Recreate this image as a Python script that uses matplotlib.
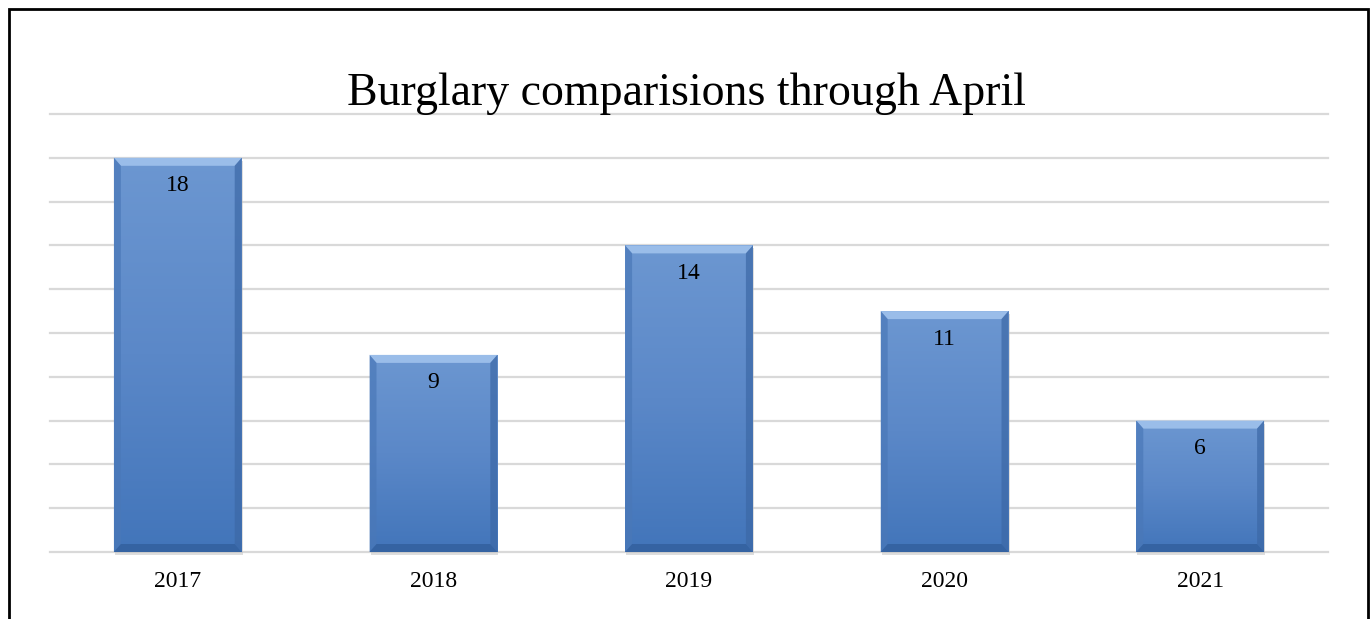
import numpy as np
import matplotlib.pyplot as plt
from matplotlib.patches import Rectangle, Polygon
from matplotlib.colors import LinearSegmentedColormap

years = ['2017', '2018', '2019', '2020', '2021']
burglaries = [18, 9, 14, 11, 6]

plt.rcParams['font.family'] = ['Liberation Serif', 'DejaVu Serif']

fig = plt.figure(figsize=(13.72, 6.19), dpi=100)
ax = fig.add_axes([50/1372, 1-552/619, 1278/1372, 438/619])

# outer frame round the chart (runs off the bottom edge)
fig.patches.append(Rectangle((8.5/1372, -0.2), 1359/1372, 1.2 - 9/619, transform=fig.transFigure,
                             fill=False, edgecolor='black', linewidth=2, zorder=0))

ax.set_xlim(-0.5, len(years) - 0.5)
ax.set_ylim(0, 20)
for s in ax.spines.values():
    s.set_visible(False)
ax.tick_params(axis='y', length=0, labelleft=False)
ax.tick_params(axis='x', length=0, pad=14, labelsize=17)
ax.set_xticks(range(len(years)))
ax.set_xticklabels(years)
# horizontal gridlines every 2
for g in np.arange(0, 21, 2):
    ax.axhline(g, color='#d9d9d9', linewidth=1.6, zorder=1, clip_on=False)

fig.text(0.5, 1-94/619, 'Burglary comparisions through April', ha='center', va='center', fontsize=33)

cmap = LinearSegmentedColormap.from_list('bar', ['#4275ba', '#5b88c8', '#6c97d1'])
grad = np.linspace(0, 1, 256).reshape(-1, 1)

w = 0.5
# pixel -> data sizes for the bevel
px_x = 1 / (1278 / 5.0)
px_y = 20 / 438.0
bx, by = 7 * px_x, 8 * px_y

for i, v in enumerate(burglaries):
    x0, x1 = i - w/2, i + w/2
    # soft shadow under the bar
    ax.add_patch(Rectangle((x0 + 1*px_x, -3*px_y), w, v, facecolor='#bfbfbf', alpha=0.5,
                           edgecolor='none', zorder=2, clip_on=False))
    bar = ax.bar(i, v, width=w, color='none', edgecolor='none', zorder=3)[0]
    im = ax.imshow(grad, extent=[x0, x1, 0, v], origin='lower', cmap=cmap,
                   aspect='auto', zorder=3)
    im.set_clip_path(bar)
    # bevel: lit top, darker sides and bottom
    ax.add_patch(Polygon([(x0, v), (x1, v), (x1 - bx, v - by), (x0 + bx, v - by)],
                         facecolor='#9abde9', edgecolor='none', zorder=4))
    ax.add_patch(Polygon([(x0, v), (x0 + bx, v - by), (x0 + bx, by), (x0, 0)],
                         facecolor='#4a78b8', edgecolor='none', alpha=0.7, zorder=4))
    ax.add_patch(Polygon([(x1, v), (x1 - bx, v - by), (x1 - bx, by), (x1, 0)],
                         facecolor='#3c68a6', edgecolor='none', alpha=0.7, zorder=4))
    ax.add_patch(Polygon([(x0, 0), (x1, 0), (x1 - bx, by), (x0 + bx, by)],
                         facecolor='#33609e', edgecolor='none', alpha=0.85, zorder=4))
    ax.text(i, v - 28*px_y, str(v), ha='center', va='center', fontsize=17, zorder=5)

fig.savefig('out.png', dpi=100)
